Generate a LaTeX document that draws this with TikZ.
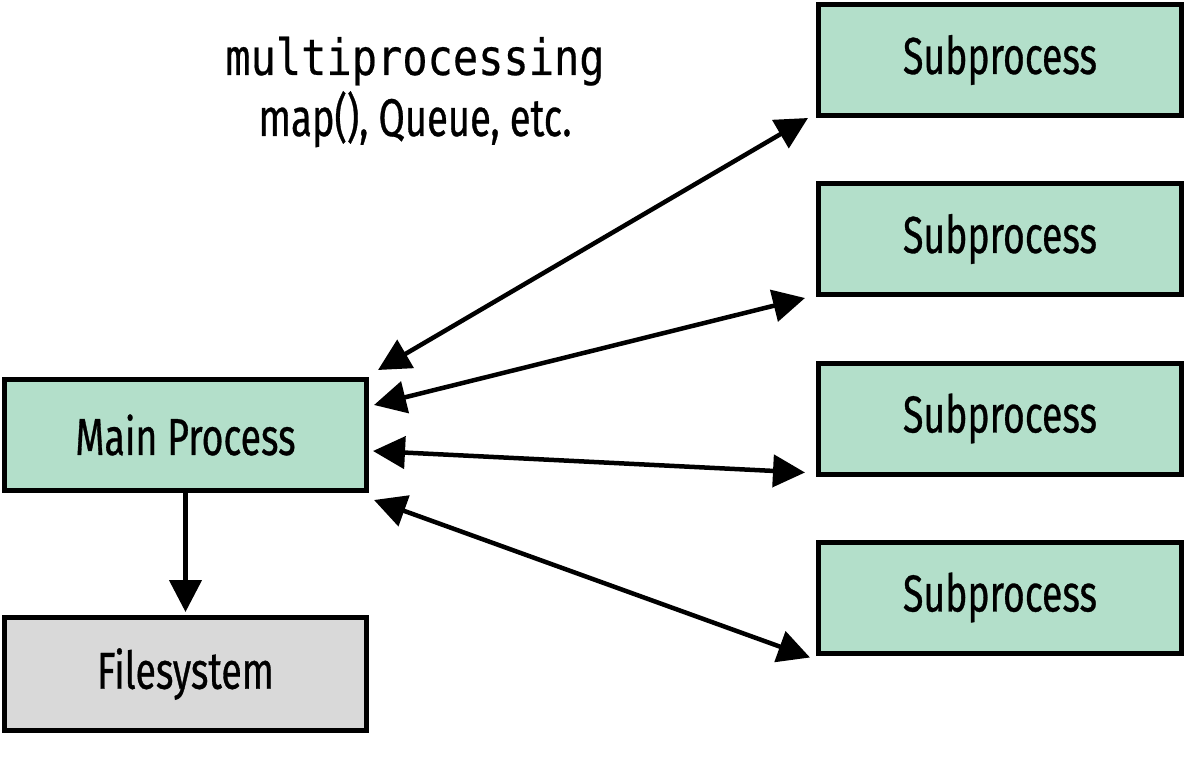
\documentclass[tikz,border=0pt]{standalone}
\usepackage{fontspec}
\setmainfont[FakeStretch=0.72,FakeBold=0.6]{Fira Sans}
\newfontfamily\codefont[FakeStretch=0.84,FakeBold=0.4]{DejaVu Sans Mono}
\usetikzlibrary{arrows.meta}
\definecolor{boxgreen}{HTML}{B3DFCA}
\definecolor{boxgray}{HTML}{D9D9D9}
\begin{document}
\begin{tikzpicture}[x=1pt,y=-1pt,
  box/.style={draw=black,line width=5pt,inner sep=0pt,minimum width=363pt,minimum height=111pt,
    font=\fontsize{52}{56}\selectfont},
  sub/.style={box,fill=boxgreen},
  conn/.style={line width=4.5pt,-{Triangle[length=32pt,width=32pt]}},
  biconn/.style={line width=4.5pt,{Triangle[length=32pt,width=32pt]}-{Triangle[length=32pt,width=32pt]}},
  lbl/.style={anchor=base,inner sep=0pt}]
\useasboundingbox (0,0) rectangle (1186,759);
\node[sub] (s1) at (1000,60) {Subprocess};
\node[sub] (s2) at (1000,239) {Subprocess};
\node[sub] (s3) at (1000,418.5) {Subprocess};
\node[sub] (s4) at (1000,597.5) {Subprocess};
\node[sub,minimum width=362pt] (main) at (185.5,435) {Main Process};
\node[box,fill=boxgray,minimum width=362pt,minimum height=113pt] (fs) at (185.5,674) {Filesystem};
\node[lbl,font=\codefont\fontsize{50}{54}\selectfont] (t1) at (415,75) {multiprocessing};
\node[lbl,font=\fontsize{53}{56}\selectfont] (t2) at (415,136) {map(), Queue, etc.};
\draw[biconn] ([shift={(9,-7)}]main.north east) -- ([shift={(-8,0)}]s1.south west);
\draw[biconn] ([shift={(5,-30)}]main.east) -- ([shift={(-11,1)}]s2.south west);
\draw[biconn] ([shift={(4,16)}]main.east) -- ([shift={(-11,-4)}]s3.south west);
\draw[biconn] ([shift={(5,7)}]main.south east) -- ([shift={(-6,2)}]s4.south west);
\draw[conn] (main.south) -- ([yshift=3pt]fs.north);
\end{tikzpicture}
\end{document}
